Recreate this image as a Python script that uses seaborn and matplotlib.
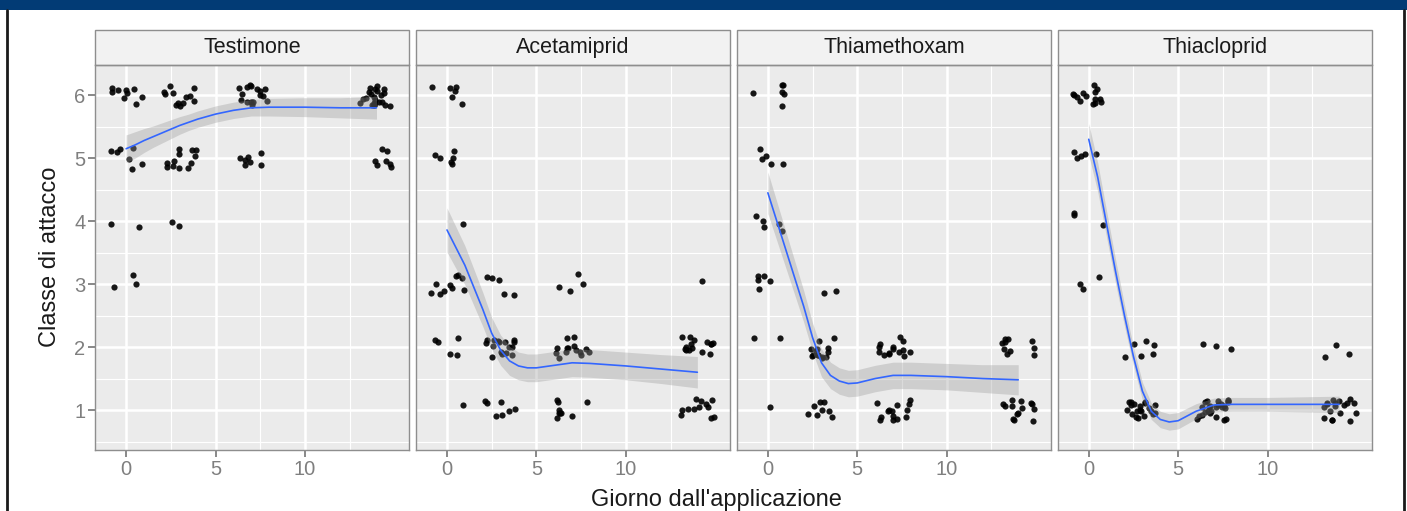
import numpy as np
import pandas as pd
import matplotlib
matplotlib.use("Agg")
import matplotlib.pyplot as plt
import seaborn as sns
from matplotlib.patches import Rectangle
from matplotlib.lines import Line2D

# ---------------------------------------------------------
# Data: number of plants per attack class, per day and treatment
# rows = class 6..1, columns = days 0, 3, 7, 14
# ---------------------------------------------------------
treatments = ["Testimone", "Acetamiprid", "Thiamethoxam", "Thiacloprid"]
days = [0, 3, 7, 14]
classes = [6, 5, 4, 3, 2, 1]

testimone_counts = [
    [9, 12, 16, 22],
    [7, 12, 7, 7],
    [2, 2, 0, 0],
    [3, 0, 0, 0],
    [0, 0, 0, 0],
    [0, 0, 0, 0],
]
acetamiprid_counts = [
    [6, 0, 0, 0],
    [6, 0, 0, 0],
    [1, 0, 0, 0],
    [10, 5, 4, 1],
    [5, 16, 14, 15],
    [1, 7, 9, 12],
]
thiamethoxam_counts = [
    [6, 0, 0, 0],
    [5, 0, 0, 0],
    [5, 0, 0, 0],
    [5, 2, 0, 0],
    [2, 14, 14, 10],
    [1, 8, 14, 14],
]
thiacloprid_counts = [
    [14, 0, 0, 0],
    [5, 0, 0, 0],
    [3, 0, 0, 0],
    [3, 0, 0, 0],
    [0, 6, 3, 3],
    [0, 20, 25, 18],
]

# Loess smooth: fitted value and band half-width
smooth_x = [0, 0.5, 1, 1.5, 2, 2.5, 3, 3.5, 4, 4.5, 5, 6, 7, 8, 10, 12, 14]
testimone_fit = [5.15, 5.21, 5.28, 5.34, 5.40, 5.46, 5.52, 5.57, 5.62, 5.66,
                 5.70, 5.76, 5.80, 5.81, 5.81, 5.80, 5.80]
testimone_se = [0.22, 0.21, 0.19, 0.17, 0.16, 0.15, 0.14, 0.13, 0.13, 0.13,
                0.13, 0.13, 0.13, 0.14, 0.15, 0.16, 0.18]
acetamiprid_fit = [3.86, 3.58, 3.30, 2.95, 2.60, 2.22, 1.95, 1.78, 1.70, 1.67,
                   1.67, 1.71, 1.75, 1.74, 1.70, 1.65, 1.60]
acetamiprid_se = [0.35, 0.33, 0.31, 0.29, 0.27, 0.25, 0.24, 0.23, 0.22, 0.22,
                  0.22, 0.22, 0.22, 0.22, 0.22, 0.23, 0.25]
thiamethoxam_fit = [4.45, 4.00, 3.55, 3.10, 2.65, 2.15, 1.75, 1.55, 1.46, 1.42,
                    1.43, 1.50, 1.55, 1.55, 1.53, 1.50, 1.48]
thiamethoxam_se = [0.33, 0.31, 0.29, 0.27, 0.25, 0.23, 0.22, 0.21, 0.21, 0.21,
                   0.21, 0.21, 0.21, 0.21, 0.21, 0.22, 0.24]
thiacloprid_fit = [5.30, 4.70, 3.95, 3.20, 2.50, 1.85, 1.30, 0.98, 0.85, 0.81,
                   0.83, 0.98, 1.08, 1.09, 1.09, 1.09, 1.09]
thiacloprid_se = [0.25, 0.23, 0.21, 0.19, 0.17, 0.15, 0.14, 0.13, 0.13, 0.13,
                  0.13, 0.12, 0.11, 0.11, 0.11, 0.12, 0.13]

all_counts = [testimone_counts, acetamiprid_counts, thiamethoxam_counts, thiacloprid_counts]
all_fits = [testimone_fit, acetamiprid_fit, thiamethoxam_fit, thiacloprid_fit]
all_se = [testimone_se, acetamiprid_se, thiamethoxam_se, thiacloprid_se]

rows = []
for t, counts in zip(treatments, all_counts):
    for ci, c in enumerate(classes):
        for di, d in enumerate(days):
            rows += [{"trattamento": t, "giorno": d, "classe": c}] * counts[ci][di]
df = pd.DataFrame(rows)

# ---------------------------------------------------------
# Styling
# ---------------------------------------------------------
sns.set_theme(style="white")
plt.rcParams["font.family"] = ["Liberation Sans", "DejaVu Sans"]

W, H = 1407, 511
fig, axes = plt.subplots(1, 4, figsize=(W / 100, H / 100), dpi=100, sharey=True)
fig.subplots_adjust(left=95 / W, right=1372 / W, bottom=61 / H, top=446 / H,
                    wspace=6.5 / 315)

grey_txt = "#7F7F7F"
border = "#8E8E8E"
np.random.seed(7)

for i, (ax, t) in enumerate(zip(axes, treatments)):
    sub = df[df["trattamento"] == t]
    ax.set_facecolor("#EBEBEB")
    ax.set_axisbelow(True)

    # jittered points (seaborn's own jitter, display only)
    sns.regplot(
        data=sub, x="giorno", y="classe", ax=ax, fit_reg=False,
        x_jitter=0.95, y_jitter=0.17,
        scatter_kws={"s": 20, "color": "black", "linewidths": 0, "alpha": 0.9, "zorder": 3},
    )

    fit = np.array(all_fits[i])
    se = np.array(all_se[i])
    ax.fill_between(smooth_x, fit - se, fit + se, color="#999999", alpha=0.35,
                    lw=0, zorder=4)
    ax.plot(smooth_x, fit, color="#3366FF", lw=1.2, zorder=5)

    ax.set_xlim(-1.74, 15.84)
    ax.set_ylim(0.365, 6.48)
    ax.set_xticks([0, 5, 10])
    ax.set_xticks([2.5, 7.5, 12.5], minor=True)
    ax.set_yticks([1, 2, 3, 4, 5, 6])
    ax.set_yticks([0.5, 1.5, 2.5, 3.5, 4.5, 5.5], minor=True)
    ax.grid(which="major", color="white", lw=1.8)
    ax.grid(which="minor", color="white", lw=0.8)
    ax.tick_params(which="major", length=5, width=1.3, color=grey_txt,
                   labelcolor=grey_txt, labelsize=14.5, pad=2,
                   bottom=True, left=(i == 0))
    ax.tick_params(which="minor", length=0)
    ax.set_xlabel("")
    ax.set_ylabel("")
    for sp in ax.spines.values():
        sp.set_color(border)
        sp.set_linewidth(1)

    # facet strip
    strip_h = 35 / 385
    ax.add_patch(Rectangle((0, 1), 1, strip_h, transform=ax.transAxes,
                           clip_on=False, facecolor="#F2F2F2",
                           edgecolor=border, lw=1))
    ax.text(0.5, 1 + strip_h / 2, t, transform=ax.transAxes, ha="center",
            va="center", fontsize=15.5, color="#1A1A1A")

fig.text(50 / W, (H - 257) / H, "Classe di attacco", rotation=90,
         ha="center", va="center", fontsize=17, color="#1A1A1A")
fig.text(716 / W, 5.5 / H, "Giorno dall'applicazione", ha="center",
         va="baseline", fontsize=17, color="#1A1A1A")

# slide frame: header bar and side rules
fig.add_artist(Rectangle((0, 1 - 10 / H), 1, 10 / H, transform=fig.transFigure,
                         facecolor="#023B75", edgecolor="none"))
fig.add_artist(Line2D([7 / W, 7 / W], [0, 1 - 10 / H], transform=fig.transFigure,
                      color="#1A1A1A", lw=2))
fig.add_artist(Line2D([1403.5 / W, 1403.5 / W], [0, 1 - 10 / H],
                      transform=fig.transFigure, color="#1A1A1A", lw=2))

fig.savefig("out.png", dpi=100)
